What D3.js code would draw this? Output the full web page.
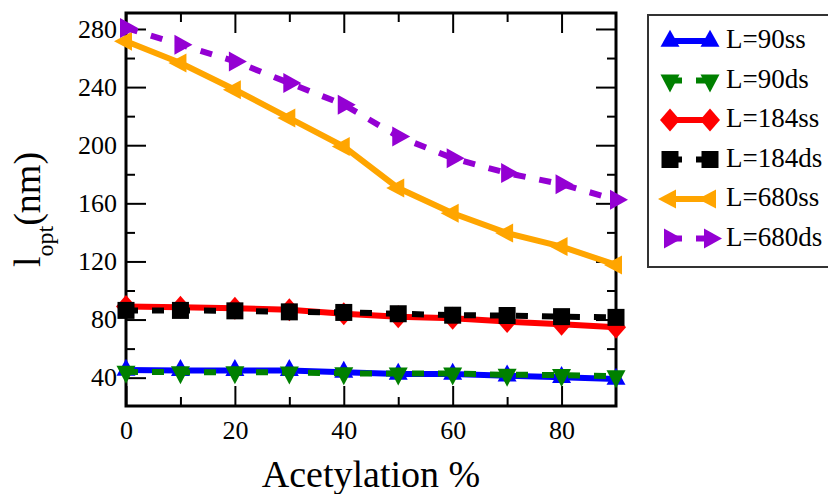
<!DOCTYPE html>
<html>
<head>
<meta charset="utf-8">
<script src="https://cdn.jsdelivr.net/npm/d3@7/dist/d3.min.js"></script>
<style>
  html, body { margin: 0; padding: 0; background: #fff; }
  svg { display: block; }
  svg text { font-family: "Liberation Serif", "Times New Roman", serif !important; fill: #000; }
</style>
</head>
<body>
<svg id="chart" width="828" height="494"></svg>
<script>
// ---------- data ----------
const acetylation = [0, 10, 20, 30, 40, 50, 60, 70, 80, 90];
const L90ss  = [45.2, 45.0, 45.0, 45.0, 43.8, 42.5, 42.5, 41.3, 40.3, 39.0];
const L90ds  = [44.0, 43.8, 43.8, 43.6, 43.0, 42.8, 42.8, 42.0, 41.8, 41.0];
const L184ss = [89.0, 88.5, 87.8, 86.8, 84.0, 82.0, 80.9, 78.6, 76.8, 74.7];
const L184ds = [86.3, 86.3, 86.0, 85.3, 84.9, 84.0, 83.0, 82.8, 82.0, 81.5];
const L680ss = [271.5, 256.6, 238.2, 218.7, 199.1, 170.5, 153.2, 139.5, 130.2, 117.6];
const L680ds = [280.7, 269.2, 257.7, 242.8, 227.9, 206.0, 191.1, 180.8, 173.2, 162.4];
const seriesNames = ["L=90ss", "L=90ds", "L=184ss", "L=184ds", "L=680ss", "L=680ds"];
const xTickLabels = [0, 20, 40, 60, 80];
const xMinorTicks = [10, 30, 50, 70];
const yTickLabels = [40, 80, 120, 160, 200, 240, 280];
const yMinorTicks = [60, 100, 140, 180, 220, 260];
const xTitle = "Acetylation %";

// ---------- styles ----------
const seriesValues = [L90ss, L90ds, L184ss, L184ds, L680ss, L680ds];
const colors = ["#0000ff", "#008000", "#ff0000", "#000000", "#ffa500", "#9400d3"];
const dashed = [false, true, false, true, false, true];
const shapes = ["up", "down", "diamond", "square", "left", "right"];
const serif = '"Liberation Serif", "Times New Roman", serif';

function markerPath(shape) {
  switch (shape) {
    case "up":    { const w = 19, h = 17; return `M0,${-2*h/3}L${w/2},${h/3}L${-w/2},${h/3}Z`; }
    case "down":  { const w = 19, h = 18; return `M0,${2*h/3}L${w/2},${-h/3}L${-w/2},${-h/3}Z`; }
    case "left":  { const w = 18, h = 19; return `M${-2*w/3},0L${w/3},${-h/2}L${w/3},${h/2}Z`; }
    case "right": { const w = 18, h = 20; return `M${2*w/3},0L${-w/3},${-h/2}L${-w/3},${h/2}Z`; }
    case "diamond": { const w = 20, h = 23; return `M0,${-h/2}L${w/2},0L0,${h/2}L${-w/2},0Z`; }
    case "square": { const s = 17; return `M${-s/2},${-s/2}h${s}v${s}h${-s}Z`; }
  }
}

const svg = d3.select("#chart");
const pL = 126, pR = 616, pT = 13, pB = 406;

const x = d3.scaleLinear().domain([0, 90]).range([pL, pR]);
const y = d3.scaleLinear().domain([20.5, 291]).range([pB, pT]);

// ---------- ticks (inward on all four sides) ----------
function tickGroup(axisGen, tx, ty, values, size) {
  const g = svg.append("g").attr("transform", `translate(${tx},${ty})`)
    .call(axisGen.tickValues(values).tickSize(size).tickFormat(""));
  g.select(".domain").remove();
  g.selectAll(".tick line").attr("stroke", "#000").attr("stroke-width", 2);
  return g;
}
tickGroup(d3.axisBottom(x), 0, pB, xTickLabels, -20);
tickGroup(d3.axisBottom(x), 0, pB, xMinorTicks, -9);
tickGroup(d3.axisTop(x), 0, pT, xTickLabels, -20);
tickGroup(d3.axisTop(x), 0, pT, xMinorTicks, -9);
tickGroup(d3.axisLeft(y), pL, 0, yTickLabels, -20);
tickGroup(d3.axisLeft(y), pL, 0, yMinorTicks, -9);
tickGroup(d3.axisRight(y), pR, 0, yTickLabels, -20);
tickGroup(d3.axisRight(y), pR, 0, yMinorTicks, -9);

// ---------- tick labels ----------
const xLab = svg.append("g").attr("transform", `translate(0,${pB})`)
  .call(d3.axisBottom(x).tickValues(xTickLabels).tickSize(0).tickPadding(15).tickFormat(d3.format("d")));
xLab.attr("font-family", serif).attr("font-size", 26);
xLab.select(".domain").remove();
xLab.selectAll("text").attr("font-size", 26).attr("font-family", serif).attr("fill", "#000");

const yLab = svg.append("g").attr("transform", `translate(${pL},0)`)
  .call(d3.axisLeft(y).tickValues(yTickLabels).tickSize(0).tickPadding(9).tickFormat(d3.format("d")));
yLab.attr("font-family", serif).attr("font-size", 26);
yLab.select(".domain").remove();
yLab.selectAll("text").attr("font-size", 26).attr("font-family", serif).attr("fill", "#000");

// ---------- frame ----------
svg.append("rect")
  .attr("x", pL).attr("y", pT)
  .attr("width", pR - pL).attr("height", pB - pT)
  .attr("fill", "none").attr("stroke", "#000").attr("stroke-width", 3);

// ---------- series ----------
const line = d3.line().x((d, i) => x(acetylation[i])).y(d => y(d));
seriesValues.forEach((vals, k) => {
  const g = svg.append("g");
  g.append("path").datum(vals)
    .attr("d", line)
    .attr("fill", "none")
    .attr("stroke", colors[k])
    .attr("stroke-width", 6)
    .attr("stroke-dasharray", dashed[k] ? "12,14" : null);
  g.selectAll("path.m").data(vals).enter().append("path")
    .attr("class", "m")
    .attr("d", markerPath(shapes[k]))
    .attr("transform", (d, i) => `translate(${x(acetylation[i])},${y(d)})`)
    .attr("fill", colors[k]);
});

// ---------- axis titles ----------
svg.append("text")
  .attr("x", (pL + pR) / 2).attr("y", 487)
  .attr("text-anchor", "middle")
  .attr("font-family", serif)
  .attr("font-size", 38)
  .text(xTitle);

const yt = svg.append("text")
  .attr("transform", `translate(40,${(pT + pB) / 2}) rotate(-90)`)
  .attr("text-anchor", "middle")
  .attr("font-family", serif)
  .attr("font-size", 38);
yt.append("tspan").text("l");
yt.append("tspan").attr("font-size", 24).attr("dy", 13).text("opt");
yt.append("tspan").attr("dy", -13).text("(nm)");

// ---------- legend ----------
const lg = svg.append("g");
lg.append("rect")
  .attr("x", 648).attr("y", 15).attr("width", 200).attr("height", 252)
  .attr("fill", "#fff").attr("stroke", "#333").attr("stroke-width", 2);
seriesNames.forEach((name, k) => {
  const cy = 41 + k * 39.5;
  const item = lg.append("g");
  item.append("line")
    .attr("x1", 670).attr("x2", 710).attr("y1", cy).attr("y2", cy)
    .attr("stroke", colors[k]).attr("stroke-width", 6)
    .attr("stroke-dasharray", dashed[k] ? "12,14" : null);
  [670, 710].forEach(mx => {
    item.append("path")
      .attr("d", markerPath(shapes[k]))
      .attr("transform", `translate(${mx},${cy})`)
      .attr("fill", colors[k]);
  });
  item.append("text")
    .attr("x", 726).attr("y", cy + 7)
    .attr("font-family", serif)
    .attr("font-size", 27)
    .text(name);
});
</script>
</body>
</html>
